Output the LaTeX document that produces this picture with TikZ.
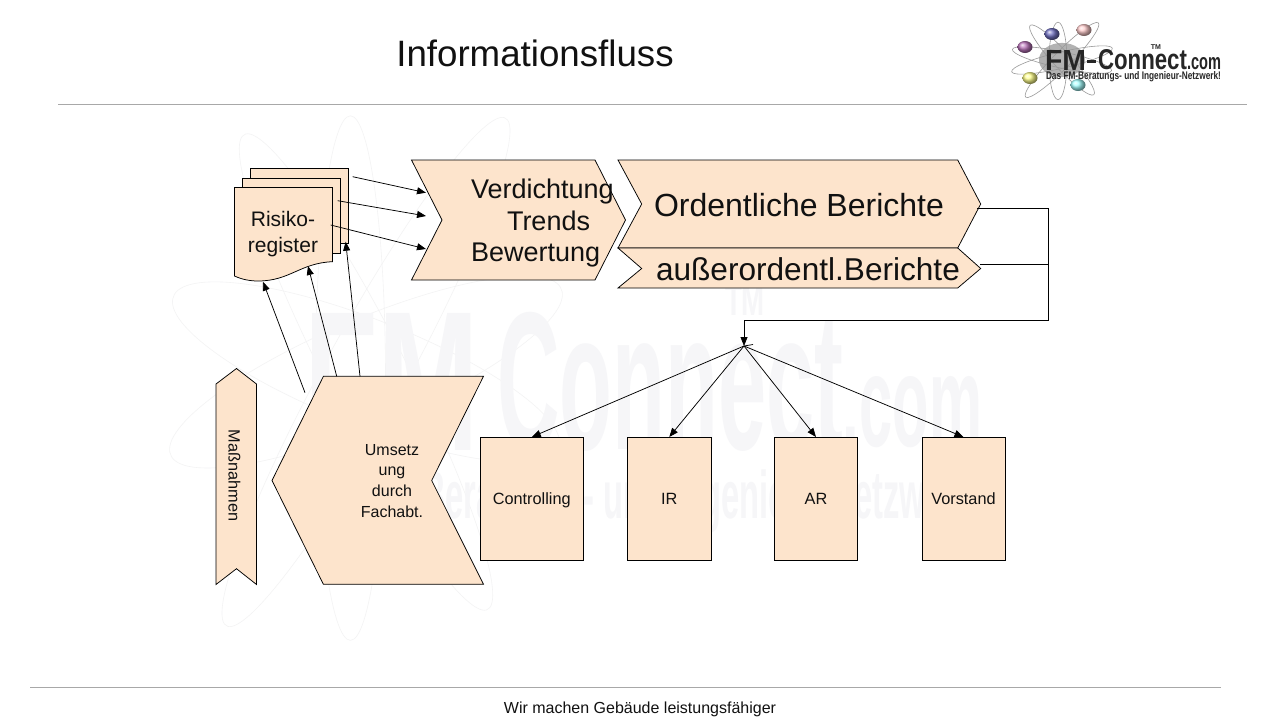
\documentclass[tikz,border=0pt]{standalone}
\usepackage{fontspec}
\usepackage{graphicx}
\setmainfont{Liberation Sans}
\usetikzlibrary{shadings,arrows.meta}
\definecolor{peach}{HTML}{FDE4CC}
\definecolor{rulegray}{HTML}{A8A8A8}
\definecolor{wm}{HTML}{F6F6F8}
\definecolor{wmline}{HTML}{F3F3F4}
\definecolor{inktext}{HTML}{111111}
\newcommand{\fs}[1]{\fontsize{#1}{#1}\selectfont}
\newcommand{\orbits}[1]{%
  \draw[#1] (0,0) ellipse [x radius=51,y radius=9,rotate=-13.5];
  \draw[#1] (0,0) ellipse [x radius=52,y radius=9,rotate=14.6];
  \draw[#1] (0,0) ellipse [x radius=55,y radius=9,rotate=48.7];
  \draw[#1] (0,0) ellipse [x radius=50,y radius=9,rotate=-50.6];
  \draw[#1] (-4,1) ellipse [x radius=43,y radius=9,rotate=90];
}
\tikzset{
  shapeline/.style={draw=black,line width=0.75pt,fill=peach,line join=miter},
  conn/.style={draw=black,line width=0.75pt},
  arr/.style={conn,-{Triangle[length=9pt,width=7pt]}},
  lbl/.style={inner sep=0pt,outer sep=0pt,align=center,text=inktext},
  boxtext/.style={text height=11.5pt,text depth=0pt},
  orbit/.style={draw=#1,line width=0.6pt},
}
\begin{document}
\begin{tikzpicture}[x=1pt,y=-1pt]
\useasboundingbox (0,0) rectangle (1280,720);
\fill[white] (0,0) rectangle (1280,720);
% watermark
\begin{scope}[cm={3.9,0,0,6.1,(366pt,-372pt)}]
  \orbits{orbit=wmline}
\end{scope}
\node[lbl,text=wm] (wmfm) at (392,381.5) {\resizebox{174pt}{137pt}{\bfseries FM}};
\node[lbl,text=wm] (wmconn) at (670,381.5) {\resizebox{346pt}{137pt}{\bfseries Connect}};
\node[lbl,text=wm] (wmcom) at (912.5,412) {\resizebox{139pt}{70pt}{\bfseries .com}};
\node[lbl,text=wm] (wmtm) at (745,300) {\resizebox{40pt}{30pt}{\bfseries TM}};
\node[lbl,text=wm] (wmsub) at (640,501) {\resizebox*{690pt}{63pt}{\bfseries Das FM-Beratungs- und Ingenieur-Netzwerk!}};
% rules
\draw[rulegray,line width=1pt] (58,104) coordinate (rtl) -- (1247,104) coordinate (rtr);
\draw[rulegray,line width=1pt] (30,687) coordinate (rbl) -- (1221,687) coordinate (rbr);
% title and footer
\node[lbl] (title) at (535,53) {\fs{36.7}Informationsfluss};
\node[lbl] (footer) at (640,709) {\fs{16}Wir machen Gebäude leistungsfähiger};
% logo
\begin{scope}[cm={1,0,0,0.9,(1062pt,-60pt)}]
  \fill[black!30] (0,0) ellipse [x radius=23,y radius=19];
  \orbits{orbit=black!40}
\end{scope}
\shade[ball color=violet!55] (1025,47) ellipse [x radius=7.5,y radius=6];
\shade[ball color=blue!40!gray!80] (1052,34) ellipse [x radius=7.5,y radius=6];
\shade[ball color=pink!80] (1084,30) ellipse [x radius=7.5,y radius=6];
\shade[ball color=yellow!45] (1030,78) ellipse [x radius=7.5,y radius=6];
\shade[ball color=cyan!35] (1078,85) ellipse [x radius=7.5,y radius=6];
\node[lbl,anchor=west,text=black!85] (logofm) at (1045,60) {\resizebox{41pt}{20pt}{\bfseries FM}};
\node[lbl,anchor=west,text=black!85] (logodash) at (1087,61) {\resizebox{9pt}{3pt}{\rule{1cm}{1cm}}};
\node[lbl,anchor=west,text=black!85] (logoconn) at (1098,60) {\resizebox{89pt}{20pt}{\bfseries Connect}};
\node[lbl,anchor=west,text=black!85] (logocom) at (1187,64) {\resizebox{34pt}{12pt}{\bfseries .com}};
\node[lbl,text=black!85] (logotm) at (1156,47.5) {\bfseries\fs{7}TM};
\node[lbl,anchor=west,text=black!85] (logosub) at (1046,76.5) {\resizebox{175pt}{8pt}{\bfseries Das FM-Beratungs- und Ingenieur-Netzwerk!}};
% document stack
\path[shapeline] (250,168) rectangle (348.5,243);
\path[shapeline] (242,178) rectangle (340,253);
\path[shapeline] (234.5,187.5) -- (332.5,187.5) -- (332.5,261.7)
  .. controls (300,263) and (290,281) .. (258,281)
  .. controls (250,281) and (242,279.5) .. (234.5,276) -- cycle;
\node[lbl] (risiko) at (283,235) {\fs{21}\begin{tabular}{@{}c@{}}Risiko-\\[4pt]register\end{tabular}};
% chevrons
\path[shapeline] (411.5,160) -- (595,160) -- (625.5,220) -- (595,280) -- (411.5,280) -- (442,220) -- cycle;
\path[shapeline] (618,160) -- (957.7,160) -- (980.7,204) -- (957.7,248) -- (618,248) -- (641.7,204) -- cycle;
\path[shapeline] (618,248) -- (957.7,248) -- (980.7,268.5) -- (957.7,288) -- (618,288) -- (641.7,268.5) -- cycle;
\node[lbl,anchor=west] (verd) at (471,191.5) {\fs{27}Verdichtung};
\node[lbl,anchor=west] (trends) at (507,220.5) {\fs{27}Trends};
\node[lbl,anchor=west] (bew) at (471,255) {\fs{27}Bewertung};
\node[lbl,anchor=west] (ord) at (654,205) {\fs{32}Ordentliche Berichte};
\node[lbl,anchor=west] (auss) at (656,269) {\fs{31.6}außerordentl.Berichte};
% measures
\path[shapeline] (236.5,368.5) -- (256.5,384) -- (256.5,584.5) -- (236.5,568.7) -- (216,584.5) -- (216,384) -- cycle;
\node[lbl,rotate=-90] (mass) at (234.5,475.5) {\fs{16.3}Maßnahmen};
\path[shapeline] (323.4,376.3) -- (483.5,376.3) -- (431.7,480.5) -- (483.5,584.3) -- (323.4,584.3) -- (272,480.5) -- cycle;
\node[lbl] (ums) at (392,483) {\fs{16}\begin{tabular}{@{}c@{}}Umsetz\\[4.3pt]ung\\[4.3pt]durch\\[4.3pt]Fachabt.\end{tabular}};
% boxes
\node[shapeline,lbl,boxtext,draw,minimum width=103.5pt,minimum height=123.5pt] (ctrl) at (531.75,498.75) {\fs{16.3}Controlling};
\node[shapeline,lbl,boxtext,draw,minimum width=83.5pt,minimum height=123.5pt] (ir) at (669.25,498.75) {\fs{16.3}IR};
\node[shapeline,lbl,boxtext,draw,minimum width=83pt,minimum height=123.5pt] (ar) at (816,498.75) {\fs{16.3}AR};
\node[shapeline,lbl,boxtext,draw,minimum width=83pt,minimum height=123.5pt] (vor) at (963.5,498.75) {\fs{16.3}Vorstand};
% coordinates
\coordinate (hub) at (744,346);
\coordinate (a1s) at (352.7,176.7); \coordinate (a1e) at (426,192.7);
\coordinate (a2s) at (337.7,200.7); \coordinate (a2e) at (426,216);
\coordinate (a3s) at (330.7,225);   \coordinate (a3e) at (426,249);
\coordinate (u1s) at (305,392.7);   \coordinate (u1e) at (263,281.7);
\coordinate (u2s) at (336.7,376.3); \coordinate (u2e) at (308,266);
\coordinate (u3s) at (360,376.3);   \coordinate (u3e) at (345.7,241.7);
\coordinate (o1) at (977,208); \coordinate (o2) at (980,264);
\coordinate (b1) at (1048,208); \coordinate (b2) at (1048,264);
\coordinate (b3) at (1048,320); \coordinate (b4) at (744,320);
\coordinate (tick) at (753,344.5);
% connectors
\draw[arr] (a1s) -- (a1e);
\draw[arr] (a2s) -- (a2e);
\draw[arr] (a3s) -- (a3e);
\draw[arr] (u1s) -- (u1e);
\draw[arr] (u2s) -- (u2e);
\draw[arr] (u3s) -- (u3e);
\draw[conn] (o1) -- (b1) -- (b3) -- (b4);
\draw[conn] (o2) -- (b2);
\draw[arr] (b4) -- (hub);
\draw[conn] (hub) -- (tick);
\draw[arr] (hub) -- (ctrl.north);
\draw[arr] (hub) -- (ir.north);
\draw[arr] (hub) -- (ar.north);
\draw[arr] (hub) -- (vor.north);
\end{tikzpicture}
\end{document}
